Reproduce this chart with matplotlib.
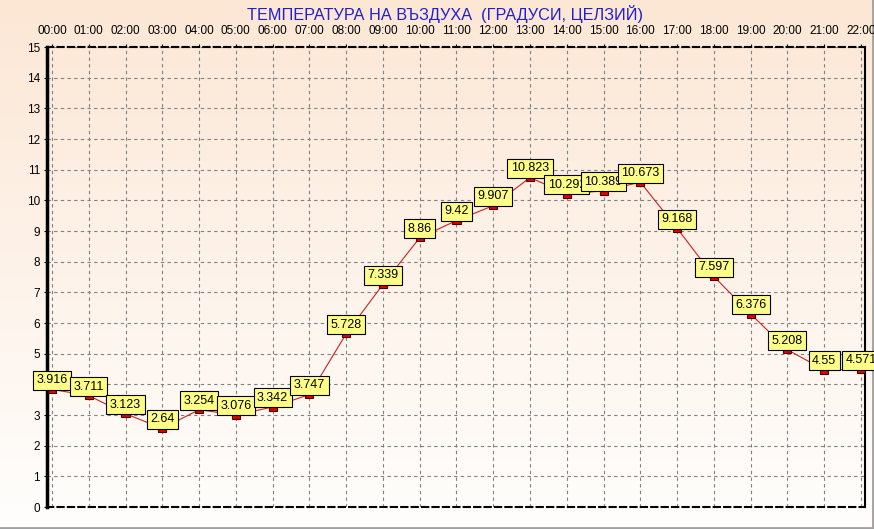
import numpy as np
import matplotlib.pyplot as plt

hours = ["00:00", "01:00", "02:00", "03:00", "04:00", "05:00", "06:00", "07:00",
         "08:00", "09:00", "10:00", "11:00", "12:00", "13:00", "14:00", "15:00",
         "16:00", "17:00", "18:00", "19:00", "20:00", "21:00", "22:00"]
temps = [3.916, 3.711, 3.123, 2.64, 3.254, 3.076, 3.342, 3.747, 5.728, 7.339,
         8.86, 9.42, 9.907, 10.823, 10.292, 10.389, 10.673, 9.168, 7.597,
         6.376, 5.208, 4.55, 4.571]
yticks = list(range(0, 16))
title = "ТЕМПЕРАТУРА НА ВЪЗДУХА  (ГРАДУСИ, ЦЕЛЗИЙ)"

plt.rcParams["font.family"] = ["Liberation Sans", "DejaVu Sans"]

W, H = 874, 529
fig = plt.figure(figsize=(W / 100, H / 100), dpi=100)

# gradient background over the whole figure
bg = fig.add_axes([0, 0, 1, 1], zorder=-10)
top = np.array([252, 231, 213]) / 255
bot = np.array([255, 254, 253]) / 255
t = np.linspace(0, 1, 256)[:, None]
grad = top * (1 - t) + bot * t
bg.imshow(grad[:, None, :].repeat(2, axis=1), aspect="auto", extent=[0, 1, 0, 1])
bg.plot([0, 1], [0.002, 0.002], color="#a0a0a0", lw=2)
bg.plot([0.999, 0.999], [0, 1], color="#a0a0a0", lw=2)
bg.set_xlim(0, 1)
bg.set_ylim(0, 1)
bg.axis("off")

x = np.arange(len(hours))
ax = fig.add_axes([47 / W, 1 - 507 / H, (865 - 47) / W, (507 - 47) / H])
ax.patch.set_alpha(0)
ax.set_xlim(-0.136, 22.11)
ax.set_ylim(0, 15)

ax.plot(x, np.array(temps) - 0.08, color="#d02020", lw=0.8, zorder=3)
for xi, yi in zip(x, temps):
    ax.add_patch(plt.Rectangle((xi - 0.11, yi - 0.2), 0.22, 0.15,
                               facecolor="#e00000", edgecolor="#500000",
                               lw=0.8, zorder=5))
for xi, yi in zip(x, temps):
    ax.annotate(f"{yi:g}", (xi, yi), xytext=(0, 0.5), textcoords="offset points",
                ha="center", va="bottom", fontsize=9, clip_on=False, zorder=6,
                bbox=dict(boxstyle="square,pad=0.28", fc="#ffff88", ec="black", lw=0.8))

ax.set_xticks(x)
ax.set_xticklabels(hours)
ax.xaxis.tick_top()
ax.set_yticks(yticks)
ax.tick_params(axis="both", labelsize=8.5, length=2, colors="black")
ax.tick_params(axis="x", pad=5.5)
ax.tick_params(axis="y", pad=3)
ax.grid(True, ls=(0, (3, 3)), color="#808080", lw=0.8)

ax.spines["left"].set_linewidth(2.5)
ax.spines["right"].set_linewidth(1.5)
ax.spines["top"].set_linestyle((0, (3, 2)))
ax.spines["top"].set_linewidth(1.5)
ax.spines["bottom"].set_linestyle((0, (3, 2)))
ax.spines["bottom"].set_linewidth(1.5)

fig.text(445 / W, 1 - 14 / H, title, ha="center", va="center", fontsize=11.7,
         color="#2020d0")

fig.savefig("out.png", dpi=100)
